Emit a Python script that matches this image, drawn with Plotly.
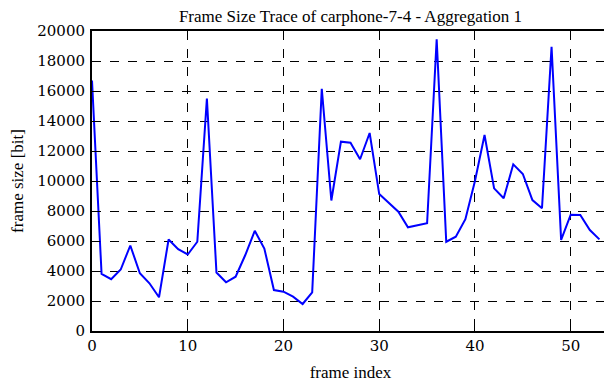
import plotly.graph_objects as go

frame_index = list(range(54))
frame_size = [16700, 3800, 3450, 4100, 5700, 3850, 3180, 2250, 6100, 5450,
              5100, 5950, 15500, 3900, 3250, 3620, 5050, 6680, 5500, 2730,
              2620, 2290, 1800, 2580, 16150, 8700, 12620, 12550, 11450, 13200,
              9130, 8510, 7950, 6910, 7020, 7180, 19450, 5950, 6290, 7450,
              10000, 13070, 9510, 8850, 11110, 10470, 8730, 8180, 18950, 6070,
              7750, 7730, 6730, 6110]

x_ticks = [0, 10, 20, 30, 40, 50]
y_ticks = [0, 2000, 4000, 6000, 8000, 10000, 12000, 14000, 16000, 18000, 20000]
y_tick_text = [str(v) for v in y_ticks]

title_text = "Frame Size Trace of carphone-7-4 - Aggregation 1"
x_label = "frame index"
y_label = "frame size [bit]"

font = dict(family="Liberation Serif", size=17, color="black")
tick_font = dict(family="DejaVu Serif", size=15, color="black")

fig = go.Figure()
fig.add_trace(go.Scatter(x=frame_index, y=frame_size, mode="lines",
                         line=dict(color="#0000ff", width=2), showlegend=False))

axis_common = dict(showline=True, linecolor="black", linewidth=2, mirror="allticks",
                   ticks="inside", ticklen=8, tickwidth=1, tickcolor="black",
                   showgrid=True, gridcolor="black", gridwidth=1, griddash="dash",
                   zeroline=False, tickfont=tick_font, automargin=False)

fig.update_xaxes(range=[0, 54], tickvals=x_ticks, ticktext=[str(v) for v in x_ticks],
                 title=dict(text=x_label, font=font, standoff=12), **axis_common)
fig.update_yaxes(range=[0, 20000], tickvals=y_ticks, ticktext=y_tick_text,
                 title=dict(text=y_label, font=font, standoff=26),
                 ticklabelstandoff=2, **axis_common)

# page has an 8px body margin, so the figure is sized/offset to compensate
fig.update_layout(
    width=604, height=374,
    margin=dict(l=84, r=3, t=23, b=51),
    plot_bgcolor="white", paper_bgcolor="white",
    font=font,
    title=dict(text=title_text, font=font, x=0.5, xref="paper", xanchor="center",
               y=1, yref="container", yanchor="top", pad=dict(t=2)),
)

fig.write_html("out.html")
